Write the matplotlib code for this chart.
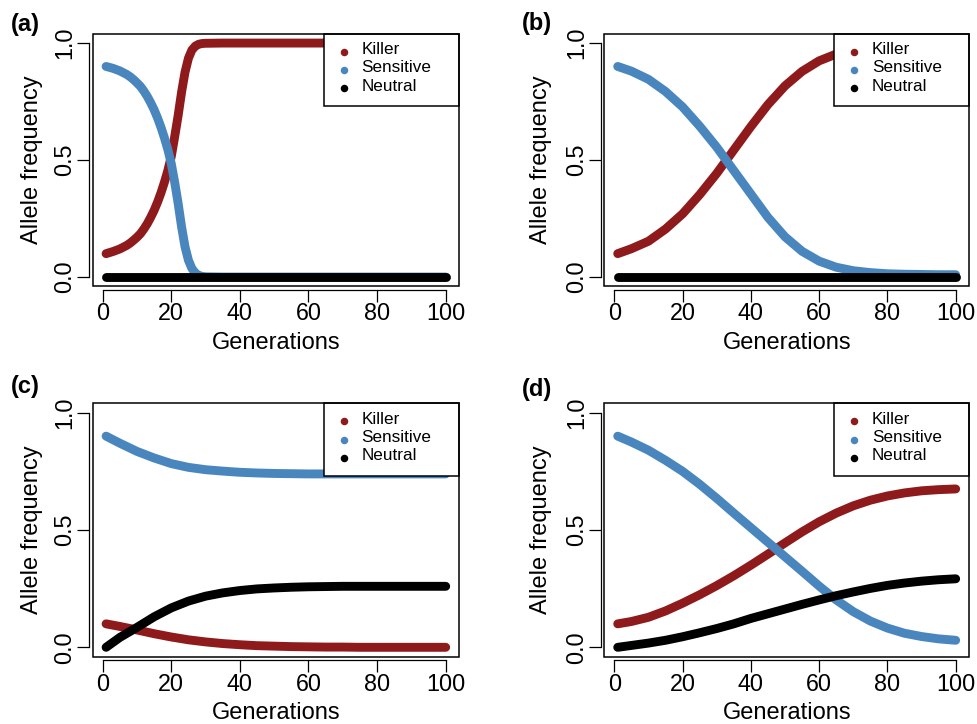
import matplotlib
matplotlib.use("Agg")
import matplotlib.pyplot as plt
from matplotlib.patches import Rectangle

plt.rcParams['font.family'] = ['Liberation Sans', 'DejaVu Sans']

# ---------------- data ----------------
gens_a = [1, 3, 5, 7, 8, 9, 10, 11, 12, 13, 14, 15, 16, 17, 18, 19, 20, 21, 22, 23, 24,
          25, 26, 27, 28, 29, 30, 35, 40, 50, 60, 70, 80, 90, 100]
killer_a = [0.100, 0.109, 0.120, 0.135, 0.145, 0.157, 0.170, 0.185, 0.205, 0.228, 0.255,
            0.285, 0.320, 0.360, 0.405, 0.455, 0.515, 0.600, 0.690, 0.790, 0.875,
            0.935, 0.970, 0.987, 0.995, 0.998, 0.999, 1.0, 1.0, 1.0, 1.0, 1.0, 1.0, 1.0, 1.0]
sensitive_a = [0.900, 0.892, 0.881, 0.866, 0.856, 0.844, 0.830, 0.815, 0.795, 0.772, 0.745,
               0.715, 0.680, 0.640, 0.595, 0.545, 0.485, 0.405, 0.315, 0.215, 0.130,
               0.072, 0.037, 0.017, 0.007, 0.003, 0.001, 0.0, 0.0, 0.0, 0.0, 0.0, 0.0, 0.0, 0.0]
neutral_a = [0.0] * len(gens_a)

gens = [1, 5, 10, 15, 20, 25, 30, 35, 40, 45, 50, 55, 60, 65, 70, 75, 80, 85, 90, 95, 100]

killer_b = [0.10, 0.121, 0.153, 0.205, 0.27, 0.352, 0.443, 0.543, 0.643, 0.737, 0.817, 0.879,
            0.924, 0.953, 0.970, 0.980, 0.985, 0.988, 0.989, 0.99, 0.99]
sensitive_b = [0.90, 0.88, 0.845, 0.793, 0.727, 0.645, 0.555, 0.455, 0.355, 0.255, 0.172, 0.110,
               0.068, 0.042, 0.027, 0.019, 0.014, 0.012, 0.011, 0.01, 0.01]
neutral_b = [0.0] * len(gens)

killer_c = [0.10, 0.089, 0.074, 0.058, 0.044, 0.032, 0.023, 0.016, 0.011, 0.007, 0.005, 0.003,
            0.002, 0.001, 0.001, 0.0, 0.0, 0.0, 0.0, 0.0, 0.0]
sensitive_c = [0.90, 0.87, 0.835, 0.807, 0.783, 0.767, 0.757, 0.751, 0.746, 0.743, 0.741, 0.74,
               0.739, 0.739, 0.739, 0.739, 0.739, 0.739, 0.739, 0.739, 0.739]
neutral_c = [0.0, 0.042, 0.085, 0.13, 0.168, 0.197, 0.218, 0.232, 0.242, 0.249, 0.253, 0.256,
             0.258, 0.259, 0.26, 0.26, 0.26, 0.26, 0.26, 0.26, 0.26]

killer_d = [0.10, 0.11, 0.128, 0.155, 0.188, 0.224, 0.263, 0.305, 0.35, 0.397, 0.445, 0.492,
            0.535, 0.572, 0.603, 0.627, 0.645, 0.658, 0.667, 0.672, 0.675]
sensitive_d = [0.90, 0.875, 0.84, 0.797, 0.75, 0.695, 0.635, 0.572, 0.51, 0.448, 0.386, 0.324,
               0.261, 0.202, 0.152, 0.112, 0.082, 0.06, 0.046, 0.036, 0.03]
neutral_d = [0.0, 0.008, 0.018, 0.03, 0.045, 0.062, 0.08, 0.1, 0.123, 0.143, 0.163, 0.183,
             0.202, 0.22, 0.236, 0.251, 0.264, 0.274, 0.282, 0.288, 0.292]

series_names = ["Killer", "Sensitive", "Neutral"]
panel_letters = ["(a)", "(b)", "(c)", "(d)"]
x_ticks = [0, 20, 40, 60, 80, 100]
y_ticks = [0.0, 0.5, 1.0]
y_ticklabels = ["0.0", "0.5", "1.0"]

RED = "#8E1A1C"
BLUE = "#4A86BE"
BLACK = "#000000"
colors = [RED, BLUE, BLACK]

panels = [
    (gens_a, killer_a, sensitive_a, neutral_a),
    (gens, killer_b, sensitive_b, neutral_b),
    (gens, killer_c, sensitive_c, neutral_c),
    (gens, killer_d, sensitive_d, neutral_d),
]

# ---------------- layout ----------------
W, H = 977, 724
fig = plt.figure(figsize=(W / 100, H / 100), dpi=100)

col_left = [92.5, 604.2]
col_width = [366.8, 365.0]
row_top = [33.7, 403.3]
row_height = [252.7, 253.4]
ylabel_x = [-0.134, -0.144]
letter_pos = [(10.5, 31), (521.5, 30), (10.5, 393.5), (521.5, 396)]

FS = 16.8
for i, (gx, k, s, n) in enumerate(panels):
    r, c = divmod(i, 2)
    l = col_left[c] / W
    w = col_width[c] / W
    h = row_height[r] / H
    b = 1 - (row_top[r] + row_height[r]) / H
    ax = fig.add_axes([l, b, w, h])

    for vals, col, z in zip((k, s, n), colors, (2, 3, 4)):
        ax.plot(gx, vals, color=col, lw=6.4, solid_capstyle="round",
                solid_joinstyle="round", zorder=z)

    ax.set_xlim(1 - 0.04 * 99, 100 + 0.04 * 99)
    ax.set_ylim(-0.04, 1.04)

    for sp in ("top", "right"):
        ax.spines[sp].set_visible(False)
    ax.spines["left"].set_position(("outward", 2.5))
    ax.spines["bottom"].set_position(("outward", 2.5))
    ax.spines["left"].set_bounds(0, 1)
    ax.spines["bottom"].set_bounds(0, 100)
    for sp in ("left", "bottom"):
        ax.spines[sp].set_linewidth(0.9)

    ax.set_xticks(x_ticks)
    ax.set_yticks(y_ticks)
    ax.set_yticklabels(y_ticklabels, rotation=90, va="center")
    ax.tick_params(direction="out", length=8.5, width=0.9, labelsize=FS, pad=0.5)

    ax.set_xlabel("Generations", fontsize=17)
    ax.xaxis.set_label_coords(0.5, -0.18)
    ax.set_ylabel("Allele frequency", fontsize=17)
    ax.yaxis.set_label_coords(ylabel_x[c], 0.5)

    # box around plot region
    ax.add_patch(Rectangle((0, 0), 1, 1, transform=ax.transAxes, fill=False,
                           edgecolor="black", lw=1.1, clip_on=False, zorder=6))

    # legend (R style box in the top-right corner)
    ax.add_patch(Rectangle((0.63, 0.714), 0.37, 0.286, transform=ax.transAxes,
                           facecolor="white", edgecolor="black", lw=1.1,
                           clip_on=False, zorder=5))
    base_y = [0.9197, 0.8473, 0.7748]
    for name, col, yb in zip(series_names, colors, base_y):
        ax.plot([0.685], [yb + 0.0095], marker="o", ms=4.4, color=col,
                transform=ax.transAxes, clip_on=False, zorder=7, ls="none")
        ax.text(0.733, yb, name, transform=ax.transAxes, fontsize=12.3,
                ha="left", va="baseline", zorder=7)

    lx, ly = letter_pos[i]
    fig.text(lx / W, 1 - ly / H, panel_letters[i], fontsize=17, fontweight="bold",
             ha="left", va="baseline")

fig.savefig("out.png", dpi=100)
